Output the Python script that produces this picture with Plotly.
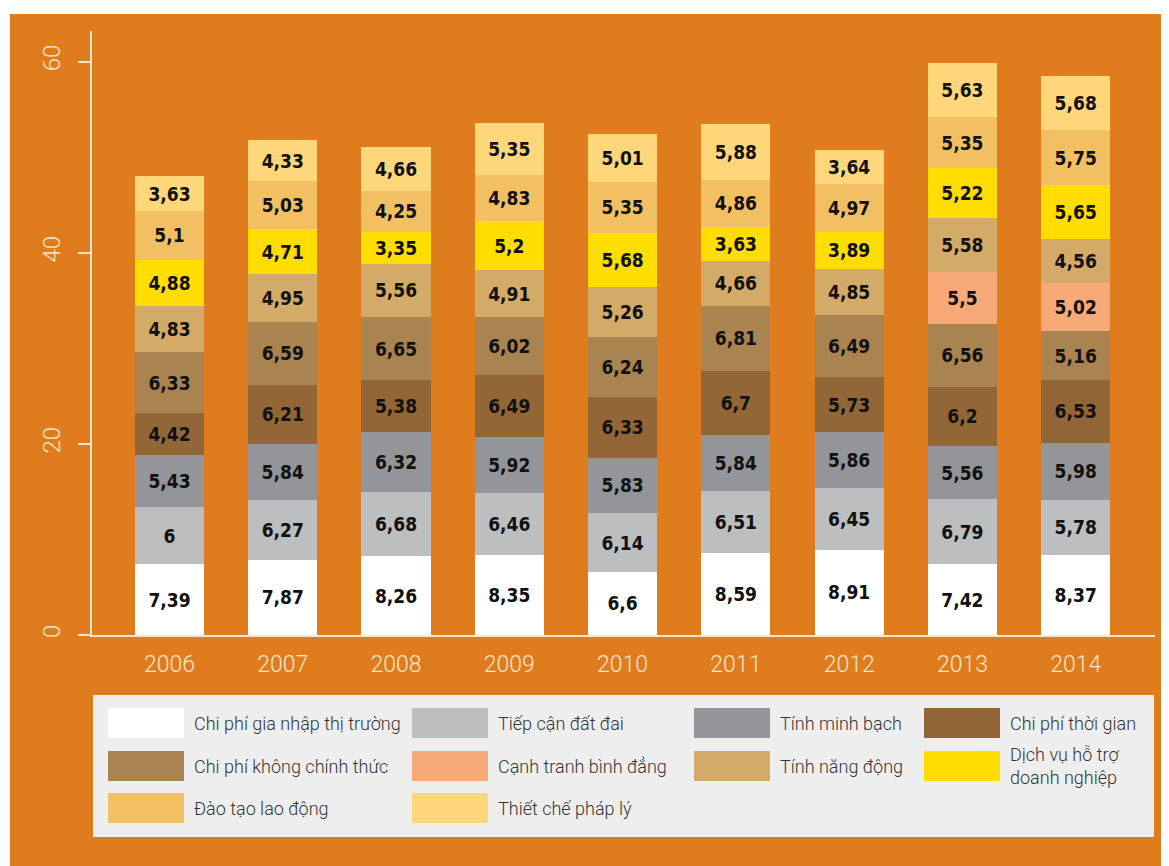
import plotly.graph_objects as go

years = ["2006", "2007", "2008", "2009", "2010", "2011", "2012", "2013", "2014"]

series_names = [
    "Chi phí gia nhập thị trường",
    "Tiếp cận đất đai",
    "Tính minh bạch",
    "Chi phí thời gian",
    "Chi phí không chính thức",
    "Cạnh tranh bình đẳng",
    "Tính năng động",
    "Dịch vụ hỗ trợ<br>doanh nghiệp",
    "Đào tạo lao động",
    "Thiết chế pháp lý",
]

gia_nhap = [7.39, 7.87, 8.26, 8.35, 6.6, 8.59, 8.91, 7.42, 8.37]
dat_dai = [6, 6.27, 6.68, 6.46, 6.14, 6.51, 6.45, 6.79, 5.78]
minh_bach = [5.43, 5.84, 6.32, 5.92, 5.83, 5.84, 5.86, 5.56, 5.98]
thoi_gian = [4.42, 6.21, 5.38, 6.49, 6.33, 6.7, 5.73, 6.2, 6.53]
khong_chinh_thuc = [6.33, 6.59, 6.65, 6.02, 6.24, 6.81, 6.49, 6.56, 5.16]
canh_tranh = [None, None, None, None, None, None, None, 5.5, 5.02]
nang_dong = [4.83, 4.95, 5.56, 4.91, 5.26, 4.66, 4.85, 5.58, 4.56]
dich_vu = [4.88, 4.71, 3.35, 5.2, 5.68, 3.63, 3.89, 5.22, 5.65]
dao_tao = [5.1, 5.03, 4.25, 4.83, 5.35, 4.86, 4.97, 5.35, 5.75]
phap_ly = [3.63, 4.33, 4.66, 5.35, 5.01, 5.88, 3.64, 5.63, 5.68]

all_values = [gia_nhap, dat_dai, minh_bach, thoi_gian, khong_chinh_thuc,
              canh_tranh, nang_dong, dich_vu, dao_tao, phap_ly]

colors = ["#ffffff", "#bdbec0", "#939598", "#926637", "#a98350",
          "#f7a978", "#d4aa68", "#ffdd00", "#f2c063", "#fed77a"]

# legend layout: column/row of each series
legend_grid = [(0, 0), (1, 0), (2, 0), (3, 0),
               (0, 1), (1, 1), (2, 1), (3, 1),
               (0, 2), (1, 2)]

ORANGE = "#df7d1e"
CREAM = "#f8e6cc"

OFF = 8  # page body margin
W, H = 1169 - OFF, 866 - OFF
ML, MR, MT, MB = 92 - OFF, 14, 31 - OFF, 231
PW = W - ML - MR
PH = H - MT - MB


def px_x(x):
    # x in viewport pixels
    return (x - OFF - ML) / PW


def px_y(y):
    return (H - MB - (y - OFF)) / PH


def fmt(v):
    if v is None:
        return ""
    return ("%g" % v).replace(".", ",")


fig = go.Figure()
for name, vals, col in zip(series_names, all_values, colors):
    fig.add_trace(go.Bar(
        x=years, y=vals, name=name.replace("<br>", " "),
        marker=dict(color=col, line=dict(width=0)),
        text=[fmt(v) for v in vals],
        textposition="inside", insidetextanchor="middle", textangle=0,
        constraintext="none",
        textfont=dict(family="DejaVu Sans Condensed, Liberation Sans Narrow, sans-serif",
                      size=19, color="#111111", weight="bold"),
        showlegend=False,
    ))

shapes = []
annotations = []
# orange background
shapes.append(dict(type="rect", xref="paper", yref="paper", layer="below",
                   x0=px_x(10), x1=px_x(1180), y0=px_y(880), y1=px_y(14),
                   fillcolor=ORANGE, line=dict(width=0)))
# legend box
shapes.append(dict(type="rect", xref="paper", yref="paper", layer="above",
                   x0=px_x(93), x1=px_x(1154), y0=px_y(837), y1=px_y(695),
                   fillcolor="#eeeeee", line=dict(width=0)))

col_sw = [108, 412, 694, 924]
row_c = [723, 766, 808]
for name, col, (c, r) in zip(series_names, colors, legend_grid):
    x0 = col_sw[c]
    yc = row_c[r]
    shapes.append(dict(type="rect", xref="paper", yref="paper", layer="above",
                       x0=px_x(x0), x1=px_x(x0 + 76), y0=px_y(yc + 15), y1=px_y(yc - 15),
                       fillcolor=col, line=dict(width=0)))
    annotations.append(dict(xref="paper", yref="paper", x=px_x(x0 + 84), y=px_y(yc),
                            text=name, showarrow=False, xanchor="left", yanchor="middle",
                            align="left",
                            font=dict(family="Roboto", size=18, color="#333333", weight=300)))

fig.update_layout(
    width=W, height=H,
    margin=dict(l=ML, r=MR, t=MT, b=MB),
    paper_bgcolor="white", plot_bgcolor="rgba(0,0,0,0)",
    barmode="stack", bargap=0.39,
    shapes=shapes, annotations=annotations,
    showlegend=False,
    xaxis=dict(range=[-0.684, 8.70], showgrid=False, zeroline=False,
               showline=True, linecolor=CREAM, linewidth=2, ticks="",
               tickfont=dict(family="Roboto", size=23, color=CREAM, weight=300),
               ticklabelstandoff=7),
    yaxis=dict(range=[0, 63.2], showgrid=False, zeroline=False,
               showline=True, linecolor=CREAM, linewidth=2,
               tickvals=[0, 20, 40, 60], ticks="outside", ticklen=12,
               tickcolor=CREAM, tickwidth=2, tickangle=-90,
               tickfont=dict(family="Roboto", size=24, color=CREAM, weight=300),
               ticklabelstandoff=8),
)

fig.write_html("out.html")
